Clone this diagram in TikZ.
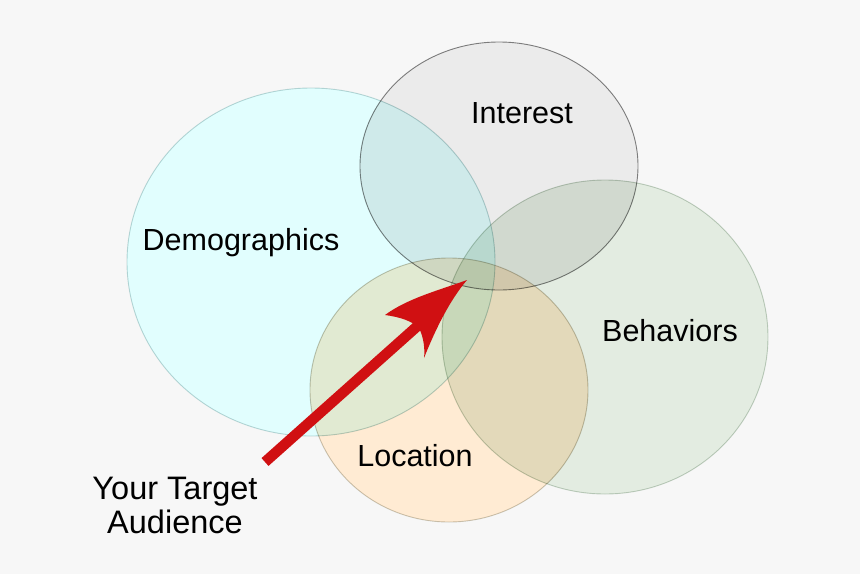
\documentclass[tikz,border=0pt]{standalone}
\usepackage{fontspec}
\setmainfont{Liberation Sans}
\begin{document}
\begin{tikzpicture}[x=1pt,y=-1pt,
  lbl/.style={font=\fontsize{30.5}{34}\selectfont, text=black, inner sep=0pt},
  blob/.style={line width=0.9pt}]
\definecolor{bg}{RGB}{247,247,247}
\definecolor{demoF}{RGB}{225,254,254}
\definecolor{demoD}{RGB}{190,212,212}
\definecolor{intF}{RGB}{235,235,235}
\definecolor{intD}{RGB}{130,130,130}
\definecolor{behF}{RGB}{227,236,225}
\definecolor{behD}{RGB}{195,208,195}
\definecolor{locF}{RGB}{255,235,211}
\definecolor{locD}{RGB}{200,198,185}
\definecolor{arr}{RGB}{208,16,18}
\fill[bg] (0,0) rectangle (860,574);
\useasboundingbox (0,0) rectangle (860,574);
\coordinate (cd) at (311,262);
\coordinate (ci) at (499,166);
\coordinate (cb) at (605,337);
\coordinate (cl) at (449,390);
\begin{scope}[blend group=multiply]
\path[blob, fill=demoF, draw=demoD] (cd) ellipse [x radius=184, y radius=174];
\path[blob, fill=intF, draw=intD] (ci) ellipse [x radius=139, y radius=124];
\path[blob, fill=behF, draw=behD] (cb) ellipse [x radius=163, y radius=157];
\path[blob, fill=locF, draw=locD] (cl) ellipse [x radius=139, y radius=132];
\end{scope}
\node[lbl] (interest) at (522,113) {Interest};
\node[lbl] (demo) at (241,243) {Demographics};
\node[lbl] (beh) at (670,331) {Behaviors};
\node[lbl] (loc) at (415,456) {Location};
\node[lbl, font=\fontsize{32.5}{34}\selectfont, align=center] (target) at (175,505) {Your Target\\Audience};
\coordinate (tail) at (265,462);
\coordinate (neck) at (422,322);
\coordinate (tip) at (467,280);
\draw[arr, line width=10.5pt] (tail) -- (neck);
\fill[arr] (tip) .. controls (440,290) and (408,298) .. (385,315)
  .. controls (400,317) and (412,321) .. (419,328)
  .. controls (424,338) and (425,350) .. (424,358)
  .. controls (436,328) and (450,300) .. (tip) -- cycle;
\end{tikzpicture}
\end{document}
